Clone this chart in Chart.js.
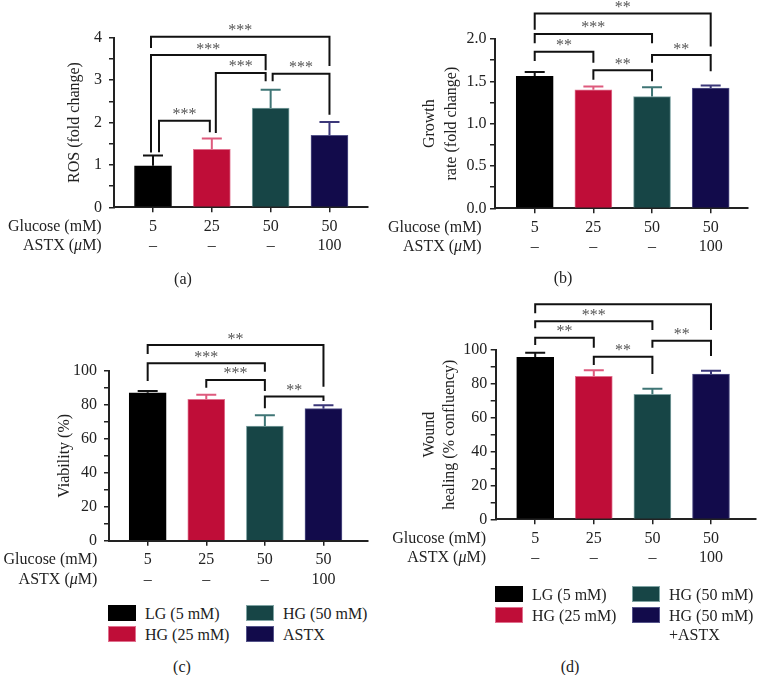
<!DOCTYPE html>
<html>
<head>
<meta charset="utf-8">
<title>ASTX under high glucose</title>
<script src="https://cdn.jsdelivr.net/npm/chart.js@4.4.1/dist/chart.umd.min.js"></script>
<style>
  body { margin: 0; background: #fff; font-family: "Liberation Serif", serif; color: #222; }
  #fig { position: relative; width: 757px; height: 675px; overflow: hidden; }
  .panel { position: absolute; height: 300px; }
  .tag { position: absolute; font-size: 16px; transform: translate(-50%, -50%); }
  .item { position: absolute; display: flex; align-items: flex-start; font-size: 16px; line-height: 19px; white-space: nowrap; }
  .item i { display: block; width: 28px; height: 16px; margin-top: 0; box-sizing: border-box; }
  .item span { margin-left: 9px; margin-top: -1px; }
</style>
</head>
<body>
<div id="fig">
  <div class="panel" style="left:0;top:0;width:378px"><canvas id="ca"></canvas></div>
  <div class="panel" style="left:378px;top:0;width:379px"><canvas id="cb"></canvas></div>
  <div class="panel" style="left:0;top:300px;width:378px"><canvas id="cc"></canvas></div>
  <div class="panel" style="left:378px;top:300px;width:379px"><canvas id="cd"></canvas></div>
  <div class="tag" style="left:183px;top:279px">(a)</div>
  <div class="tag" style="left:563px;top:278px">(b)</div>
  <div class="tag" style="left:182px;top:667px">(c)</div>
  <div class="tag" style="left:570px;top:667px">(d)</div>
  <div id="legC"></div>
  <div id="legD"></div>
</div>
<script>
// groups (same four in every panel)
const glucose = ['5', '25', '50', '50'];
const astx = ['–', '–', '–', '100'];
const legendC = ['LG (5 mM)', 'HG (25 mM)', 'HG (50 mM)', 'ASTX'];
const legendD = ['LG (5 mM)', 'HG (25 mM)', 'HG (50 mM)', 'HG (50 mM)<br>+ASTX'];

// (a) ROS
const rosMean = [0.98, 1.37, 2.34, 1.70];
const rosSd = [0.24, 0.25, 0.43, 0.31];
// [from, to, bar height, left leg end, right leg end, label]
const rosSig = [
  [0, 3, 4.02, 3.76, 3.33, '***'],
  [0, 2, 3.59, 1.29, 3.23, '***'],
  [1, 2, 3.17, 1.75, 2.97, '***'],
  [2, 3, 3.15, 2.97, 2.18, '***'],
  [0, 1, 2.04, 1.30, 1.77, '***']
];

// (b) growth rate
const growthMean = [1.56, 1.40, 1.32, 1.42];
const growthSd = [0.05, 0.04, 0.11, 0.03];
const growthSig = [
  [0, 3, 2.30, 2.11, 1.91, '**'],
  [0, 2, 2.06, 1.95, 1.95, '***'],
  [0, 1, 1.85, 1.74, 1.72, '**'],
  [1, 2, 1.63, 1.52, 1.50, '**'],
  [2, 3, 1.81, 1.72, 1.62, '**']
];

// (c) viability
const viaMean = [87.2, 83.3, 67.6, 77.8];
const viaSd = [1.0, 2.7, 6.3, 2.0];
const viaSig = [
  [0, 3, 115.3, 110.0, 90.7, '**'],
  [0, 2, 104.5, 94.1, 99.6, '***'],
  [1, 2, 94.7, 90.2, 88.2, '***'],
  [2, 3, 84.9, 78.0, 82.3, '**']
];

// (d) wound healing
const woundMean = [95.7, 84.5, 73.8, 85.8];
const woundSd = [2.7, 3.5, 3.3, 2.0];
const woundSig = [
  [0, 3, 127.0, 121.7, 111.8, ''],
  [0, 2, 117.0, 112.8, 111.8, '***'],
  [0, 1, 107.3, 103.0, 101.4, '**'],
  [1, 2, 96.0, 91.1, 85.8, '**'],
  [2, 3, 105.5, 101.4, 96.5, '**']
];

const barColors = ['#000000', '#bf0d38', '#174546', '#120b4b'];
const edgeColors = ['#000000', '#e0708e', '#7fa3a3', '#55548a'];
const errColors = ['#111111', '#de5a7d', '#3f7575', '#3b3779'];

const FONT = '"Liberation Serif", serif';
Chart.defaults.font.family = FONT;
Chart.defaults.font.size = 16;
Chart.defaults.color = '#222';

function extras(p) {
  return {
    id: 'extras',
    afterDraw(chart) {
      const { ctx, chartArea: ca, scales: { x, y } } = chart;
      ctx.save();
      // error bars, upward only
      p.mean.forEach((m, i) => {
        const px = x.getPixelForValue(i);
        const y0 = y.getPixelForValue(m);
        const y1 = y.getPixelForValue(m + p.sd[i]);
        ctx.strokeStyle = errColors[i];
        ctx.lineWidth = 2;
        ctx.beginPath();
        ctx.moveTo(px, y0); ctx.lineTo(px, y1);
        ctx.moveTo(px - 10, y1); ctx.lineTo(px + 10, y1);
        ctx.stroke();
      });
      // significance brackets
      ctx.font = '16px ' + FONT;
      ctx.textAlign = 'center';
      ctx.textBaseline = 'alphabetic';
      p.sig.forEach((s, k) => {
        const nd = p.nudge ? p.nudge[k] : [0, 0];
        const x1 = x.getPixelForValue(s[0]) + nd[0];
        const x2 = x.getPixelForValue(s[1]) + nd[1];
        const yb = y.getPixelForValue(s[2]);
        ctx.strokeStyle = '#111';
        ctx.lineWidth = 2;
        ctx.beginPath();
        ctx.moveTo(x1, y.getPixelForValue(s[3]));
        ctx.lineTo(x1, yb);
        ctx.lineTo(x2, yb);
        ctx.lineTo(x2, y.getPixelForValue(s[4]));
        ctx.stroke();
        if (s[5]) {
          ctx.fillStyle = '#555';
          ctx.fillText(s[5], (x1 + x2) / 2, yb - 1.5);
        }
      });
      // y axis title
      ctx.fillStyle = '#222';
      ctx.textBaseline = 'middle';
      const midY = (ca.top + ca.bottom) / 2;
      p.title.forEach((t, k) => {
        ctx.save();
        ctx.translate(p.titleX[k], midY);
        ctx.rotate(-Math.PI / 2);
        ctx.fillText(t, 0, 0);
        ctx.restore();
      });
      // row headers beside the x tick labels
      const r1 = ca.bottom + 5 + 4.5 + 9.75;
      const r2 = r1 + 19.5;
      const xr = ca.left - p.rowGap;
      ctx.textAlign = 'right';
      ctx.fillText('Glucose (mM)', xr, r1);
      const up = '16px ' + FONT, it = 'italic 16px ' + FONT;
      const parts = [['ASTX (', up], ['μ', it], ['M)', up]];
      let w = 0;
      parts.forEach(q => { ctx.font = q[1]; w += ctx.measureText(q[0]).width; });
      let cx = xr - w;
      ctx.textAlign = 'left';
      parts.forEach(q => {
        ctx.font = q[1];
        ctx.fillText(q[0], cx, r2);
        cx += ctx.measureText(q[0]).width;
      });
      ctx.restore();
    }
  };
}

function panel(p) {
  const lab = v => {
    const r = v / p.labelStep;
    return Math.abs(r - Math.round(r)) < 1e-6 ? v.toFixed(p.dec) : '';
  };
  return new Chart(document.getElementById(p.id), {
    type: 'bar',
    data: {
      datasets: [{
        data: p.mean.map((v, i) => ({ x: i, y: v })),
        backgroundColor: barColors,
        borderColor: edgeColors,
        borderWidth: 1,
        barThickness: 37
      }]
    },
    options: {
      responsive: true,
      maintainAspectRatio: false,
      animation: false,
      layout: { padding: { top: p.top, right: p.right, left: 0, bottom: 0 } },
      plugins: { legend: { display: false }, tooltip: { enabled: false } },
      scales: {
        x: {
          type: 'linear',
          min: p.xMin,
          max: p.xMax,
          offset: false,
          grid: { offset: false, drawOnChartArea: false, tickLength: 5, color: '#222', lineWidth: 1.5 },
          border: { color: '#222', width: 2 },
          afterBuildTicks: s => { s.ticks = glucose.map((_, i) => ({ value: i })); },
          afterFit: s => { s.height = p.xHeight; },
          ticks: {
            autoSkip: false,
            maxRotation: 0,
            padding: 4.5,
            font: { size: 16, lineHeight: 1.22 },
            callback: v => [glucose[v], astx[v]]
          }
        },
        y: {
          min: 0,
          max: p.yMax,
          grid: { drawOnChartArea: false, tickLength: 5, color: '#222', lineWidth: 1.5 },
          border: { color: '#222', width: 2 },
          afterFit: s => { s.width = p.yWidth; },
          ticks: { stepSize: p.yStep, autoSkip: false, padding: p.tickPad, callback: lab }
        }
      }
    },
    plugins: [extras(p)]
  });
}

panel({
  id: 'ca', mean: rosMean, sd: rosSd, sig: rosSig,
  nudge: [[-2, 0], [-2, -5], [4, -5], [2, 0], [6, -2]],
  yMax: 4, yStep: 0.5, labelStep: 1, dec: 0, tickPad: 7,
  xMin: -0.663, xMax: 3.655, top: 37.7, right: 10, yWidth: 114, xHeight: 92.7,
  title: ['ROS (fold change)'], titleX: [75], rowGap: 12.3
});
panel({
  id: 'cb', mean: growthMean, sd: growthSd, sig: growthSig,
  yMax: 2, yStep: 0.25, labelStep: 0.5, dec: 1, tickPad: 3.5,
  xMin: -0.677, xMax: 3.636, top: 39, right: 9, yWidth: 117, xHeight: 91.7,
  title: ['Growth', 'rate (fold change)'], titleX: [51.3, 73.7], rowGap: 13.3
});
panel({
  id: 'cc', mean: viaMean, sd: viaSd, sig: viaSig,
  yMax: 100, yStep: 10, labelStep: 20, dec: 0, tickPad: 7,
  xMin: -0.66, xMax: 3.76, top: 71, right: 10, yWidth: 109, xHeight: 59.3,
  title: ['Viability (%)'], titleX: [65], rowGap: 11.7
});
panel({
  id: 'cd', mean: woundMean, sd: woundSd, sig: woundSig,
  yMax: 100, yStep: 10, labelStep: 20, dec: 0, tickPad: 3.5,
  xMin: -0.674, xMax: 3.768, top: 50, right: 1, yWidth: 117.7, xHeight: 80.7,
  title: ['Wound', 'healing (% confluency)'], titleX: [51.3, 72], rowGap: 9.7
});

// legends: two columns, column-major order
function legend(el, names, left, top, colX, rowY) {
  const box = document.getElementById(el);
  names.forEach((n, i) => {
    const d = document.createElement('div');
    d.className = 'item';
    d.style.left = (left + colX[Math.floor(i / 2)]) + 'px';
    d.style.top = (top + rowY[i % 2]) + 'px';
    d.innerHTML = '<i style="background:' + barColors[i] + ';border:1px solid ' + edgeColors[i] + '"></i><span>' + n + '</span>';
    box.appendChild(d);
  });
}
legend('legC', legendC, 108, 605, [0, 138], [0, 21]);
legend('legD', legendD, 495, 586, [0, 137], [0, 20.5]);
</script>
</body>
</html>
